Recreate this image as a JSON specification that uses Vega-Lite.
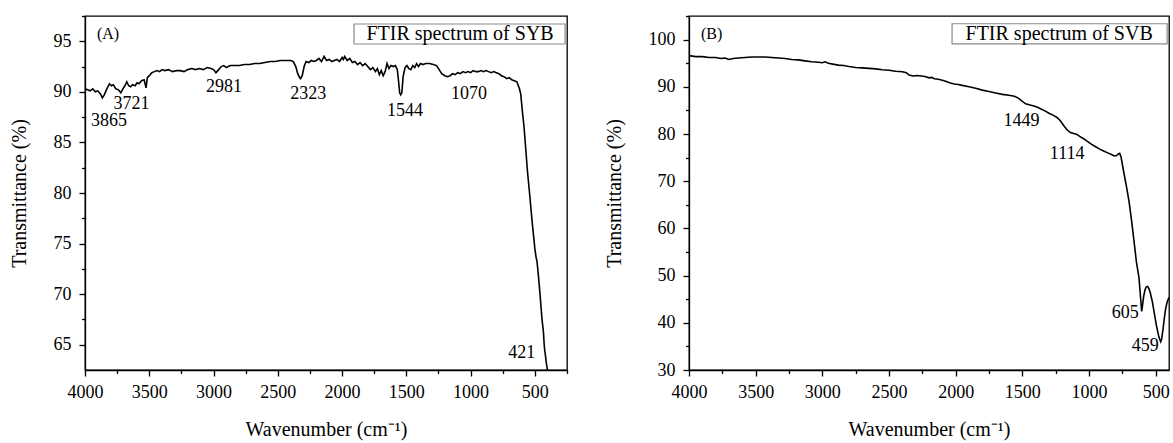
{
  "$schema": "https://vega.github.io/schema/vega-lite/v6.json",
  "background": "white",
  "padding": {"left": 8, "top": 6, "right": 2, "bottom": 2},
  "spacing": 34,
  "config": {
    "view": {"stroke": "black", "strokeWidth": 1.3},
    "font": "Liberation Serif",
    "axis": {
      "grid": false,
      "domainColor": "black",
      "domainWidth": 1.3,
      "tickColor": "black",
      "tickWidth": 1.3,
      "labelColor": "black",
      "titleColor": "black",
      "labelFont": "Liberation Serif",
      "titleFont": "Liberation Serif",
      "labelFontSize": 18,
      "titleFontSize": 20,
      "titleFontWeight": "normal",
      "labelPadding": 7,
      "labelOverlap": false,
      "labelFlush": false
    },
    "text": {"font": "Liberation Serif", "color": "black"}
  },
  "datasets": {
    "sybLine": [
      {"w": 4000, "T": 90.3}, {"w": 3980, "T": 90.2}, {"w": 3960, "T": 90.1}, {"w": 3940, "T": 90.3}, {"w": 3920, "T": 90.0},
      {"w": 3900, "T": 90.1}, {"w": 3880, "T": 89.8}, {"w": 3865, "T": 89.4}, {"w": 3850, "T": 89.7}, {"w": 3830, "T": 90.3},
      {"w": 3810, "T": 90.8}, {"w": 3795, "T": 90.6}, {"w": 3780, "T": 90.7}, {"w": 3760, "T": 90.3}, {"w": 3740, "T": 90.2},
      {"w": 3721, "T": 89.9}, {"w": 3705, "T": 90.3}, {"w": 3690, "T": 90.6}, {"w": 3675, "T": 91.0}, {"w": 3660, "T": 90.6},
      {"w": 3645, "T": 90.5}, {"w": 3630, "T": 90.7}, {"w": 3610, "T": 90.6}, {"w": 3595, "T": 90.9}, {"w": 3580, "T": 90.8},
      {"w": 3560, "T": 91.1}, {"w": 3540, "T": 91.2}, {"w": 3525, "T": 90.4}, {"w": 3515, "T": 91.4}, {"w": 3500, "T": 91.6},
      {"w": 3480, "T": 91.9}, {"w": 3460, "T": 92.0}, {"w": 3440, "T": 92.1}, {"w": 3420, "T": 92.0}, {"w": 3400, "T": 92.2},
      {"w": 3380, "T": 92.1}, {"w": 3350, "T": 92.2}, {"w": 3320, "T": 92.0}, {"w": 3290, "T": 92.1}, {"w": 3260, "T": 92.1},
      {"w": 3230, "T": 92.0}, {"w": 3200, "T": 92.2}, {"w": 3170, "T": 92.3}, {"w": 3140, "T": 92.2}, {"w": 3110, "T": 92.3},
      {"w": 3080, "T": 92.2}, {"w": 3050, "T": 92.4}, {"w": 3020, "T": 92.3}, {"w": 3000, "T": 92.2}, {"w": 2981, "T": 91.9},
      {"w": 2960, "T": 92.2}, {"w": 2940, "T": 92.5}, {"w": 2920, "T": 92.6}, {"w": 2900, "T": 92.4}, {"w": 2870, "T": 92.6},
      {"w": 2840, "T": 92.6}, {"w": 2800, "T": 92.6}, {"w": 2760, "T": 92.7}, {"w": 2720, "T": 92.7}, {"w": 2680, "T": 92.8},
      {"w": 2640, "T": 92.8}, {"w": 2600, "T": 92.9}, {"w": 2560, "T": 93.0}, {"w": 2520, "T": 93.0}, {"w": 2480, "T": 93.1},
      {"w": 2440, "T": 93.1}, {"w": 2400, "T": 93.1}, {"w": 2380, "T": 93.0}, {"w": 2360, "T": 92.5}, {"w": 2345, "T": 91.8},
      {"w": 2330, "T": 91.4}, {"w": 2323, "T": 91.3}, {"w": 2310, "T": 91.6}, {"w": 2295, "T": 92.5}, {"w": 2280, "T": 93.0},
      {"w": 2260, "T": 92.9}, {"w": 2240, "T": 93.1}, {"w": 2220, "T": 93.0}, {"w": 2200, "T": 93.1}, {"w": 2180, "T": 93.3},
      {"w": 2160, "T": 93.0}, {"w": 2140, "T": 93.5}, {"w": 2120, "T": 93.1}, {"w": 2100, "T": 93.2}, {"w": 2080, "T": 93.0},
      {"w": 2060, "T": 93.1}, {"w": 2040, "T": 93.2}, {"w": 2020, "T": 93.0}, {"w": 2000, "T": 93.4}, {"w": 1990, "T": 93.2},
      {"w": 1980, "T": 93.5}, {"w": 1960, "T": 93.1}, {"w": 1940, "T": 93.3}, {"w": 1920, "T": 92.9}, {"w": 1900, "T": 93.0},
      {"w": 1880, "T": 92.7}, {"w": 1860, "T": 92.9}, {"w": 1840, "T": 92.6}, {"w": 1820, "T": 92.8}, {"w": 1800, "T": 92.5},
      {"w": 1780, "T": 92.2}, {"w": 1760, "T": 92.4}, {"w": 1740, "T": 92.0}, {"w": 1725, "T": 92.3}, {"w": 1710, "T": 91.7},
      {"w": 1695, "T": 92.1}, {"w": 1680, "T": 91.6}, {"w": 1665, "T": 92.0}, {"w": 1650, "T": 92.8}, {"w": 1635, "T": 92.3},
      {"w": 1620, "T": 92.6}, {"w": 1600, "T": 92.5}, {"w": 1585, "T": 92.6}, {"w": 1570, "T": 92.2}, {"w": 1560, "T": 91.0},
      {"w": 1552, "T": 89.9}, {"w": 1544, "T": 89.7}, {"w": 1535, "T": 89.9}, {"w": 1525, "T": 91.5}, {"w": 1510, "T": 92.4},
      {"w": 1495, "T": 92.6}, {"w": 1480, "T": 92.3}, {"w": 1465, "T": 92.2}, {"w": 1450, "T": 92.6}, {"w": 1435, "T": 92.4},
      {"w": 1420, "T": 92.8}, {"w": 1405, "T": 92.5}, {"w": 1390, "T": 92.8}, {"w": 1370, "T": 92.7}, {"w": 1350, "T": 92.8},
      {"w": 1320, "T": 92.8}, {"w": 1290, "T": 92.7}, {"w": 1265, "T": 92.6}, {"w": 1245, "T": 92.2}, {"w": 1225, "T": 91.8},
      {"w": 1200, "T": 91.6}, {"w": 1180, "T": 91.5}, {"w": 1160, "T": 91.6}, {"w": 1140, "T": 91.8}, {"w": 1120, "T": 91.7},
      {"w": 1100, "T": 91.9}, {"w": 1080, "T": 91.8}, {"w": 1060, "T": 92.0}, {"w": 1040, "T": 91.9}, {"w": 1020, "T": 92.0},
      {"w": 1000, "T": 91.9}, {"w": 980, "T": 92.1}, {"w": 960, "T": 92.0}, {"w": 940, "T": 92.0}, {"w": 920, "T": 92.1},
      {"w": 900, "T": 92.0}, {"w": 880, "T": 92.1}, {"w": 860, "T": 92.0}, {"w": 840, "T": 91.9}, {"w": 820, "T": 92.0},
      {"w": 800, "T": 91.9}, {"w": 780, "T": 91.8}, {"w": 760, "T": 91.6}, {"w": 740, "T": 91.5}, {"w": 720, "T": 91.3},
      {"w": 700, "T": 91.4}, {"w": 680, "T": 91.2}, {"w": 660, "T": 91.1}, {"w": 640, "T": 91.0}, {"w": 620, "T": 90.3},
      {"w": 610, "T": 89.8}, {"w": 595, "T": 87.8}, {"w": 584, "T": 86.5}, {"w": 570, "T": 84.2}, {"w": 558, "T": 82.2},
      {"w": 540, "T": 79.8}, {"w": 520, "T": 77.0}, {"w": 500, "T": 74.5}, {"w": 490, "T": 73.6}, {"w": 484, "T": 73.3},
      {"w": 475, "T": 72.2}, {"w": 460, "T": 70.0}, {"w": 445, "T": 67.6}, {"w": 433, "T": 66.2}, {"w": 428, "T": 65.1},
      {"w": 424, "T": 64.5}, {"w": 420, "T": 64.2}, {"w": 412, "T": 63.3}, {"w": 402, "T": 62.5}, {"w": 395, "T": 61.8}
    ],
    "sybPeaks": [
      {"w": 3813, "T": 87.1, "label": "3865"},
      {"w": 3638, "T": 88.8, "label": "3721"},
      {"w": 2918, "T": 90.5, "label": "2981"},
      {"w": 2264, "T": 89.8, "label": "2323"},
      {"w": 1510, "T": 88.1, "label": "1544"},
      {"w": 1012, "T": 89.8, "label": "1070"},
      {"w": 603, "T": 64.2, "label": "421"}
    ],
    "sybTag": [{"w": 3907, "T": 95.7, "label": "(A)"}],
    "sybBox": [{"w": 1907, "w2": 265, "T": 94.73, "T2": 96.71}],
    "sybLegend": [{"w": 1082, "T": 95.72, "label": "FTIR spectrum of SYB"}],
    "svbLine": [
      {"w": 4000, "T": 96.6}, {"w": 3950, "T": 96.4}, {"w": 3900, "T": 96.4}, {"w": 3850, "T": 96.2}, {"w": 3800, "T": 96.2},
      {"w": 3760, "T": 96.0}, {"w": 3730, "T": 96.1}, {"w": 3700, "T": 95.8}, {"w": 3670, "T": 96.0}, {"w": 3630, "T": 96.1},
      {"w": 3580, "T": 96.2}, {"w": 3530, "T": 96.3}, {"w": 3480, "T": 96.3}, {"w": 3430, "T": 96.3}, {"w": 3380, "T": 96.2},
      {"w": 3330, "T": 96.1}, {"w": 3280, "T": 96.0}, {"w": 3230, "T": 95.8}, {"w": 3180, "T": 95.7}, {"w": 3130, "T": 95.5},
      {"w": 3080, "T": 95.3}, {"w": 3030, "T": 95.2}, {"w": 3000, "T": 95.1}, {"w": 2980, "T": 95.3}, {"w": 2955, "T": 95.0},
      {"w": 2920, "T": 94.8}, {"w": 2880, "T": 94.6}, {"w": 2840, "T": 94.5}, {"w": 2800, "T": 94.3}, {"w": 2750, "T": 94.1},
      {"w": 2700, "T": 94.0}, {"w": 2650, "T": 93.9}, {"w": 2600, "T": 93.8}, {"w": 2550, "T": 93.6}, {"w": 2500, "T": 93.5},
      {"w": 2450, "T": 93.3}, {"w": 2400, "T": 93.2}, {"w": 2370, "T": 93.0}, {"w": 2350, "T": 92.5}, {"w": 2320, "T": 92.3},
      {"w": 2290, "T": 92.4}, {"w": 2260, "T": 92.3}, {"w": 2230, "T": 92.2}, {"w": 2200, "T": 91.9}, {"w": 2180, "T": 92.0},
      {"w": 2160, "T": 91.7}, {"w": 2130, "T": 91.6}, {"w": 2100, "T": 91.4}, {"w": 2070, "T": 91.1}, {"w": 2040, "T": 90.8},
      {"w": 2010, "T": 90.6}, {"w": 1980, "T": 90.5}, {"w": 1950, "T": 90.3}, {"w": 1900, "T": 90.0}, {"w": 1850, "T": 89.7},
      {"w": 1800, "T": 89.3}, {"w": 1750, "T": 89.0}, {"w": 1700, "T": 88.7}, {"w": 1650, "T": 88.4}, {"w": 1600, "T": 88.2},
      {"w": 1560, "T": 88.0}, {"w": 1530, "T": 87.6}, {"w": 1500, "T": 86.9}, {"w": 1475, "T": 86.4}, {"w": 1450, "T": 86.2},
      {"w": 1420, "T": 86.0}, {"w": 1390, "T": 85.7}, {"w": 1360, "T": 85.3}, {"w": 1330, "T": 84.9}, {"w": 1300, "T": 84.4},
      {"w": 1270, "T": 84.0}, {"w": 1240, "T": 83.5}, {"w": 1215, "T": 82.8}, {"w": 1190, "T": 81.8}, {"w": 1165, "T": 80.9},
      {"w": 1140, "T": 80.3}, {"w": 1114, "T": 80.1}, {"w": 1090, "T": 79.9}, {"w": 1070, "T": 79.5}, {"w": 1040, "T": 79.0},
      {"w": 1010, "T": 78.4}, {"w": 980, "T": 77.8}, {"w": 950, "T": 77.3}, {"w": 920, "T": 76.8}, {"w": 890, "T": 76.4},
      {"w": 860, "T": 76.0}, {"w": 835, "T": 75.7}, {"w": 815, "T": 75.4}, {"w": 795, "T": 75.4}, {"w": 780, "T": 75.8},
      {"w": 770, "T": 75.9}, {"w": 760, "T": 75.2}, {"w": 740, "T": 72.0}, {"w": 720, "T": 69.0}, {"w": 700, "T": 65.8},
      {"w": 680, "T": 61.5}, {"w": 662, "T": 57.2}, {"w": 645, "T": 53.0}, {"w": 625, "T": 49.5}, {"w": 615, "T": 46.0},
      {"w": 605, "T": 42.4}, {"w": 598, "T": 43.8}, {"w": 590, "T": 45.6}, {"w": 580, "T": 47.0}, {"w": 570, "T": 47.6},
      {"w": 560, "T": 47.7}, {"w": 550, "T": 47.2}, {"w": 540, "T": 46.3}, {"w": 525, "T": 44.5}, {"w": 510, "T": 42.0},
      {"w": 495, "T": 39.5}, {"w": 480, "T": 37.5}, {"w": 470, "T": 36.5}, {"w": 462, "T": 36.0}, {"w": 455, "T": 36.6},
      {"w": 445, "T": 38.6}, {"w": 435, "T": 41.0}, {"w": 425, "T": 43.0}, {"w": 415, "T": 44.3}, {"w": 400, "T": 45.4}
    ],
    "svbPeaks": [
      {"w": 1506, "T": 82.75, "label": "1449"},
      {"w": 1164, "T": 75.7, "label": "1114"},
      {"w": 729, "T": 42.0, "label": "605"},
      {"w": 579, "T": 35.0, "label": "459"}
    ],
    "svbTag": [{"w": 3910, "T": 101.2, "label": "(B)"}],
    "svbBox": [{"w": 2027, "w2": 414, "T": 99.11, "T2": 103.36}],
    "svbLegend": [{"w": 1224, "T": 101.2, "label": "FTIR spectrum of SVB"}]
  },
  "hconcat": [
    {
      "width": 482,
      "height": 354,
      "encoding": {
        "x": {
          "field": "w", "type": "quantitative",
          "scale": {"domain": [250, 4000], "reverse": true, "nice": false, "zero": false},
          "axis": {
            "title": "Wavenumber (cm⁻¹)",
            "titlePadding": 18,
            "values": [4000, 3750, 3500, 3250, 3000, 2750, 2500, 2250, 2000, 1750, 1500, 1250, 1000, 750, 500, 250],
            "labelExpr": "datum.value % 500 === 0 ? format(datum.value, 'd') : ''",
            "tickSize": {"condition": {"test": "datum.value % 500 === 0", "value": 6}, "value": 3.5}
          }
        },
        "y": {
          "field": "T", "type": "quantitative",
          "scale": {"domain": [62.5, 97.5], "nice": false, "zero": false},
          "axis": {
            "title": "Transmittance (%)",
            "titlePadding": 24,
            "labelPadding": 8,
            "values": [65, 67.5, 70, 72.5, 75, 77.5, 80, 82.5, 85, 87.5, 90, 92.5, 95, 97.5],
            "labelExpr": "datum.value % 5 === 0 ? format(datum.value, 'd') : ''",
            "tickSize": {"condition": {"test": "datum.value % 5 === 0", "value": 6}, "value": 3.5}
          }
        }
      },
      "layer": [
        {
          "data": {"name": "sybLine"},
          "mark": {"type": "line", "color": "black", "strokeWidth": 1.6, "clip": true}
        },
        {
          "data": {"name": "sybBox"},
          "mark": {"type": "rect", "fill": "white", "stroke": "#8a8a8a", "strokeWidth": 1.2},
          "encoding": {"x2": {"field": "w2"}, "y2": {"field": "T2"}}
        },
        {
          "data": {"name": "sybLegend"},
          "mark": {"type": "text", "fontSize": 20, "align": "center", "baseline": "middle"},
          "encoding": {"text": {"field": "label"}}
        },
        {
          "data": {"name": "sybTag"},
          "mark": {"type": "text", "fontSize": 16, "align": "left", "baseline": "middle"},
          "encoding": {"text": {"field": "label"}}
        },
        {
          "data": {"name": "sybPeaks"},
          "mark": {"type": "text", "fontSize": 18, "align": "center", "baseline": "middle"},
          "encoding": {"text": {"field": "label"}}
        }
      ]
    },
    {
      "width": 480,
      "height": 354,
      "encoding": {
        "x": {
          "field": "w", "type": "quantitative",
          "scale": {"domain": [400, 4000], "reverse": true, "nice": false, "zero": false},
          "axis": {
            "title": "Wavenumber (cm⁻¹)",
            "titlePadding": 18,
            "values": [4000, 3750, 3500, 3250, 3000, 2750, 2500, 2250, 2000, 1750, 1500, 1250, 1000, 750, 500],
            "labelExpr": "datum.value % 500 === 0 ? format(datum.value, 'd') : ''",
            "tickSize": {"condition": {"test": "datum.value % 500 === 0", "value": 6}, "value": 3.5}
          }
        },
        "y": {
          "field": "T", "type": "quantitative",
          "scale": {"domain": [30, 105], "nice": false, "zero": false},
          "axis": {
            "title": "Transmittance (%)",
            "titlePadding": 24,
            "labelPadding": 8,
            "values": [30, 35, 40, 45, 50, 55, 60, 65, 70, 75, 80, 85, 90, 95, 100, 105],
            "labelExpr": "datum.value % 10 === 0 ? format(datum.value, 'd') : ''",
            "tickSize": {"condition": {"test": "datum.value % 10 === 0", "value": 6}, "value": 3.5}
          }
        }
      },
      "layer": [
        {
          "data": {"name": "svbLine"},
          "mark": {"type": "line", "color": "black", "strokeWidth": 1.6, "clip": true}
        },
        {
          "data": {"name": "svbBox"},
          "mark": {"type": "rect", "fill": "white", "stroke": "#8a8a8a", "strokeWidth": 1.2},
          "encoding": {"x2": {"field": "w2"}, "y2": {"field": "T2"}}
        },
        {
          "data": {"name": "svbLegend"},
          "mark": {"type": "text", "fontSize": 20, "align": "center", "baseline": "middle"},
          "encoding": {"text": {"field": "label"}}
        },
        {
          "data": {"name": "svbTag"},
          "mark": {"type": "text", "fontSize": 16, "align": "left", "baseline": "middle"},
          "encoding": {"text": {"field": "label"}}
        },
        {
          "data": {"name": "svbPeaks"},
          "mark": {"type": "text", "fontSize": 18, "align": "center", "baseline": "middle"},
          "encoding": {"text": {"field": "label"}}
        }
      ]
    }
  ]
}
